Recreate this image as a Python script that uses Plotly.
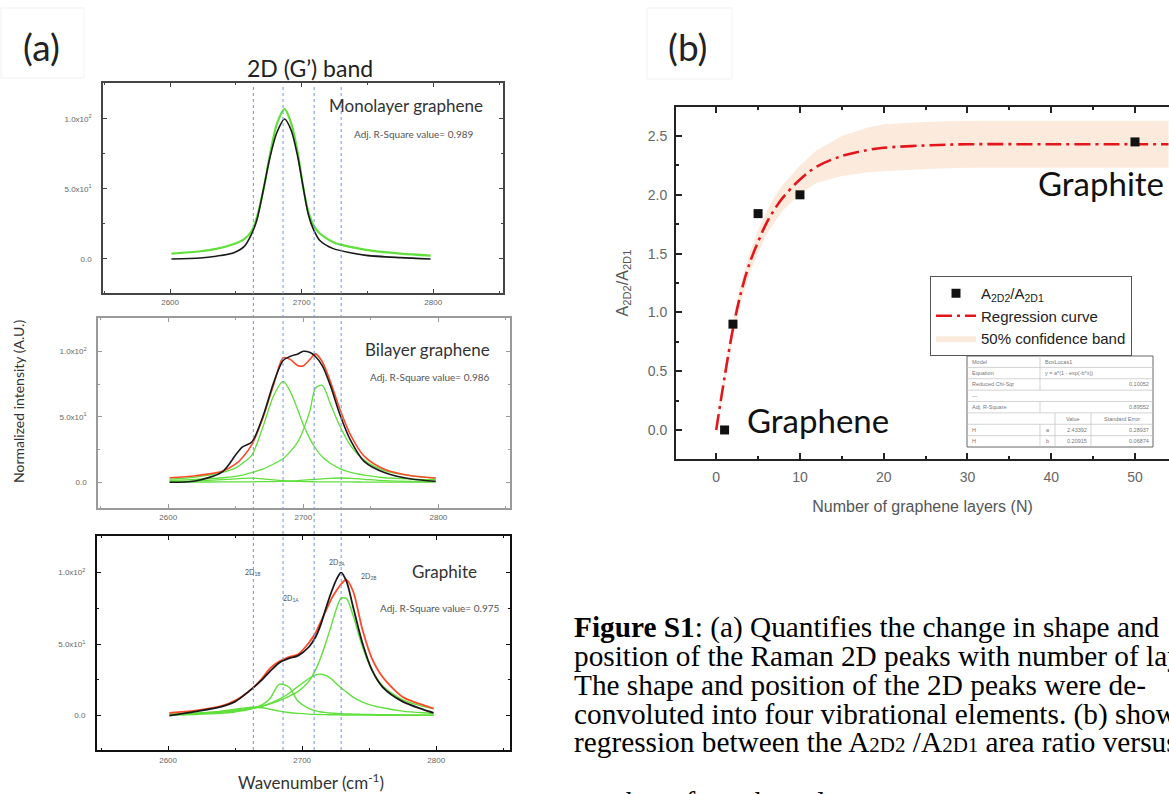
import plotly.graph_objects as go

W, H = 1169, 794

# ---------------- data: panel (a) ----------------
mono_x = [2601, 2623, 2635, 2648, 2656, 2662, 2666, 2671, 2676, 2681, 2687, 2692, 2697, 2701, 2705, 2709, 2714, 2724, 2737, 2749, 2775, 2798]
mono_data = [0, 0.7, 2, 4.3, 8.6, 18, 28, 50, 73, 90, 100, 92, 73, 52, 32, 21, 13, 7.4, 4.5, 2.6, 1, 0]
mono_fit = [3.8, 5.5, 7.2, 10.5, 14, 20, 30, 50, 75, 96, 107, 97, 76, 52, 34, 24, 18, 12, 8.6, 6.5, 3.8, 2.4]

bi_x = [2601, 2620, 2640, 2650, 2655, 2662, 2670, 2678, 2685, 2690, 2696, 2700, 2705, 2709, 2714, 2720, 2727, 2735, 2745, 2760, 2780, 2798]
bi_data = [0, 1, 8, 21, 27, 31, 50, 76, 93, 96, 98, 100, 99, 96, 89, 74, 52, 32, 16, 7.5, 2.5, 0.8]
bi_fit = [3.5, 5, 8.4, 14, 19, 29, 49, 74.5, 95, 94, 89, 89, 94, 98, 92, 77, 56, 36, 20, 10, 5, 3.3]
bi_c1 = [2.5, 4, 7.5, 11, 14.5, 21, 42, 66, 77, 70, 55, 44, 33, 26, 19.5, 14.5, 10.5, 7.5, 5.5, 3.5, 2.5, 2]
bi_c2 = [1.5, 2.2, 3.5, 4.6, 5.5, 7.5, 10, 14, 18, 23, 31, 40, 55, 72, 74, 60, 43, 28, 17, 9, 5, 3.3]
bi_c3 = [0.5, 1, 2, 2.6, 3, 3.2, 2.6, 1.8, 1.2, 0.9, 0.7, 0.6, 0.5, 0.4, 0.4, 0.3, 0.3, 0.3, 0.2, 0.2, 0.2, 0.2]
bi_c4 = [0.2, 0.2, 0.3, 0.3, 0.3, 0.4, 0.5, 0.6, 0.8, 1, 1.3, 1.6, 2, 2.3, 2.7, 3, 3.3, 3, 2.3, 1.3, 0.7, 0.5]

gr_x = [2601, 2620, 2640, 2650, 2660, 2670, 2676, 2683, 2690, 2697, 2705, 2710, 2714, 2718, 2722, 2726, 2729, 2733, 2738, 2745, 2752, 2760, 2775, 2790, 2798]
gr_data = [0, 2.8, 6.3, 9.8, 16.8, 25, 31, 37, 40, 42, 48, 55, 64, 76, 87, 96, 100, 94, 76, 50.6, 32, 20, 9.8, 4.4, 2]
gr_fit = [2, 3.5, 6.8, 10.5, 16.8, 26, 33, 38, 41, 43, 51, 58, 66, 74, 82, 88, 92, 95, 87, 60, 40, 27, 13, 7.5, 5]
gr_1b = [0.8, 1.5, 3.2, 4.5, 5.8, 5.5, 4.5, 3.2, 2.2, 1.6, 1.1, 0.9, 0.8, 0.7, 0.6, 0.6, 0.5, 0.5, 0.5, 0.4, 0.4, 0.3, 0.3, 0.3, 0.3]
gr_1a = [0.5, 0.8, 1.6, 2.6, 4.2, 7.5, 12, 22, 20, 10, 5, 3.4, 2.6, 2.1, 1.8, 1.5, 1.3, 1.2, 1.1, 0.9, 0.8, 0.7, 0.5, 0.4, 0.4]
gr_2a = [0.8, 1.3, 2.4, 3.3, 4.5, 6.5, 8.5, 11.5, 15.5, 20.5, 26, 28.5, 29, 28, 25.5, 22, 19.5, 16.5, 13, 9.5, 7.2, 5.5, 3.2, 2, 1.6]
gr_2b = [1.2, 1.8, 3, 3.8, 5, 6.8, 8.2, 10.5, 13.5, 17, 24, 32, 41, 52, 64, 76, 82, 82, 70, 48, 32, 21, 11, 6.5, 5]

peak_pos = [2663, 2685, 2708, 2728]
a_xticks = [2600, 2700, 2800]
a_yticks = [0, 50, 100]
a_yticktext = ["0.0", "5.0x10<sup>1</sup>", "1.0x10<sup>2</sup>"]

# ---------------- data: panel (b) ----------------
layers = [1, 2, 5, 10, 50]
ratio = [0.0, 0.9, 1.84, 2.0, 2.45]
fit_n = [0, 1, 2, 3, 4, 5, 6, 7, 8, 10, 12, 15, 18, 20, 25, 30, 40, 50, 54]
fit_ratio = [0.0, 0.45, 0.86, 1.18, 1.42, 1.60, 1.76, 1.88, 1.98, 2.13, 2.24, 2.33, 2.38, 2.40, 2.42, 2.43, 2.43, 2.43, 2.43]
band_hi = [0.02, 0.50, 0.93, 1.26, 1.51, 1.70, 1.86, 1.99, 2.09, 2.25, 2.38, 2.50, 2.57, 2.60, 2.62, 2.63, 2.63, 2.63, 2.63]
band_lo = [-0.02, 0.40, 0.79, 1.10, 1.33, 1.50, 1.66, 1.77, 1.87, 2.01, 2.10, 2.16, 2.19, 2.20, 2.22, 2.23, 2.23, 2.23, 2.23]

table_rows = [
    ["Model", "BoxLucas1", "", ""],
    ["Equation", "y = a*(1 - exp(-b*x))", "", ""],
    ["Reduced Chi-Sqr", "", "", "0.10052"],
    ["---", "", "", ""],
    ["Adj. R-Square", "", "", "0.89552"],
    ["", "", "Value", "Standard Error"],
    ["H", "a", "2.43392", "0.28937"],
    ["H", "b", "0.20915", "0.06874"],
]

caption_lines = [
    "<b>Figure S1</b>: (a) Quantifies the change in shape and",
    "position of the Raman 2D peaks with number of layers.",
    "The shape and position of the 2D peaks were de-",
    "convoluted into four vibrational elements. (b) shows the",
    "regression between the A<span style='font-size:21px'>2D2</span> /A<span style='font-size:21px'>2D1</span> area ratio versus",
    "number of graphene layers.",
]


def X(p):
    return p / W


def Y(p):
    return 1 - p / H


GREEN = "#5fe03a"
RED = "#ff4a2a"
BLACK = "#1a1a1a"

fig = go.Figure()


def line(x, y, color, width, ax, ay):
    fig.add_trace(go.Scatter(x=x, y=y, mode="lines", xaxis=ax, yaxis=ay,
                             line=dict(color=color, width=width, shape="spline", smoothing=0.8),
                             showlegend=False, hoverinfo="skip"))


# monolayer
line(mono_x, mono_fit, GREEN, 2.2, "x", "y")
line(mono_x, mono_data, BLACK, 1.6, "x", "y")
# bilayer
for c in (bi_c1, bi_c2, bi_c3, bi_c4):
    line(bi_x, c, GREEN, 1.3, "x2", "y2")
line(bi_x, bi_fit, RED, 1.6, "x2", "y2")
line(bi_x, bi_data, BLACK, 1.6, "x2", "y2")
# graphite
for c in (gr_1b, gr_1a, gr_2a, gr_2b):
    line(gr_x, c, GREEN, 1.4, "x3", "y3")
line(gr_x, gr_fit, RED, 1.8, "x3", "y3")
line(gr_x, gr_data, BLACK, 1.8, "x3", "y3")

# panel (b): band first (drawn underneath), then curve, then points
fig.add_trace(go.Scatter(x=fit_n, y=band_lo, mode="lines", line=dict(width=0, color="rgba(0,0,0,0)"),
                         xaxis="x4", yaxis="y4", showlegend=False, hoverinfo="skip"))
fig.add_trace(go.Scatter(x=fit_n, y=band_hi, mode="lines", line=dict(width=0, color="rgba(0,0,0,0)"),
                         fill="tonexty", fillcolor="rgba(246,196,160,0.36)",
                         xaxis="x4", yaxis="y4", name="50% confidence band", legendrank=3))
fig.add_trace(go.Scatter(x=fit_n, y=fit_ratio, mode="lines", xaxis="x4", yaxis="y4",
                         line=dict(color="#e4161c", width=2.6, dash="16px,5px,3px,5px", shape="spline"),
                         name="Regression curve", legendrank=2))
fig.add_trace(go.Scatter(x=layers, y=ratio, mode="markers", xaxis="x4", yaxis="y4",
                         marker=dict(symbol="square", size=9, color="#111"),
                         name="A<sub>2D2</sub>/A<sub>2D1</sub>", legendrank=1))


def a_axes(dx, dy, rx, ry, color, lw, anchor_x, anchor_y):
    xa = dict(domain=[X(dx[0]), X(dx[1])], range=rx, anchor=anchor_y, showline=True, linecolor=color,
              linewidth=lw, mirror="ticks", ticks="inside", ticklen=4, tickcolor=color, tickwidth=1,
              tickmode="array", tickvals=a_xticks,
              minor=dict(ticks="inside", ticklen=2, tickmode="array", tickvals=[2550, 2650, 2750, 2850], tickcolor=color),
              showgrid=False, zeroline=False, ticklabelstandoff=1,
              tickfont=dict(size=8, color="#666", family="Liberation Sans"))
    ya = dict(domain=[Y(dy[1]), Y(dy[0])], range=ry, anchor=anchor_x, showline=True, linecolor=color,
              linewidth=lw, mirror="ticks", ticks="inside", ticklen=4, tickcolor=color, tickwidth=1,
              tickmode="array", tickvals=a_yticks, ticktext=a_yticktext,
              minor=dict(ticks="inside", ticklen=2, tickmode="array", tickvals=[-25, 25, 75, 125], tickcolor=color),
              showgrid=False, zeroline=False, ticklabelstandoff=8,
              tickfont=dict(size=8, color="#666", family="Liberation Sans"))
    return xa, ya


xa1, ya1 = a_axes((103, 503), (83, 293), [2549, 2853], [-24.3, 125.7], "#444", 1.5, "x", "y")
xa2, ya2 = a_axes((98, 510), (318, 508), [2548, 2853], [-19.6, 125.4], "#9a9a9a", 1.5, "x2", "y2")
xa3, ya3 = a_axes((97, 510), (536, 750), [2547, 2855], [-24, 125.6], "#111", 2, "x3", "y3")

xa4 = dict(domain=[X(676), 1.0], range=[-4.8, 54.06], anchor="y4", showline=True, linecolor="#222",
           linewidth=2, mirror="ticks", ticks="inside", ticklen=6, tickcolor="#222", tickwidth=1.5,
           tick0=0, dtick=10, minor=dict(ticks="inside", ticklen=3, dtick=5, tick0=0, tickcolor="#222"),
           showgrid=False, zeroline=False, ticklabelstandoff=4,
           tickfont=dict(size=14, color="#666", family="Liberation Sans"),
           title=dict(text="Number of graphene layers (N)", standoff=17,
                      font=dict(size=16, color="#555", family="Liberation Sans")))
ya4 = dict(domain=[Y(459), Y(107)], range=[-0.247, 2.747], anchor="x4", showline=True, linecolor="#222",
           linewidth=2, mirror=False, ticks="inside", ticklen=6, tickcolor="#222", tickwidth=1.5,
           tick0=0, dtick=0.5, tickformat=".1f",
           minor=dict(ticks="inside", ticklen=3, dtick=0.25, tick0=0, tickcolor="#222"),
           showgrid=False, zeroline=False, ticklabelstandoff=4,
           tickfont=dict(size=14, color="#666", family="Liberation Sans"),
           title=dict(text="A<sub>2D2</sub>/A<sub>2D1</sub>", standoff=15,
                      font=dict(size=16, color="#555", family="Liberation Sans")))

shapes = []
for v in peak_pos:
    shapes.append(dict(type="line", xref="x2", yref="paper", x0=v, x1=v, y0=Y(750), y1=Y(86),
                       line=dict(color="#7094dc", width=1, dash="dot")))
# faint label boxes
shapes.append(dict(type="rect", xref="paper", yref="paper", x0=X(1), x1=X(84), y0=Y(78), y1=Y(8),
                   line=dict(color="#f1f1f1", width=1)))
shapes.append(dict(type="rect", xref="paper", yref="paper", x0=X(647), x1=X(732), y0=Y(79), y1=Y(8),
                   line=dict(color="#f1f1f1", width=1)))

# statistics table
tL, tR, tT, tB = 967, 1153, 356, 447
c1, c2, c3 = 1040, 1055, 1091
rh = (tB - tT) / len(table_rows)
shapes.append(dict(type="rect", xref="paper", yref="paper", x0=X(tL), x1=X(tR), y0=Y(tB), y1=Y(tT),
                   line=dict(color="#666", width=1), fillcolor="white", layer="above"))
for i in range(1, len(table_rows)):
    yy = tT + i * rh
    shapes.append(dict(type="line", xref="paper", yref="paper", x0=X(tL), x1=X(tR), y0=Y(yy), y1=Y(yy),
                       line=dict(color="#c8c8c8", width=0.8)))
for i in (0, 1, 2, 4, 6, 7):
    shapes.append(dict(type="line", xref="paper", yref="paper", x0=X(c1), x1=X(c1),
                       y0=Y(tT + i * rh), y1=Y(tT + (i + 1) * rh), line=dict(color="#c8c8c8", width=0.8)))
for i in (5, 6, 7):
    for cx in (c2, c3):
        shapes.append(dict(type="line", xref="paper", yref="paper", x0=X(cx), x1=X(cx),
                           y0=Y(tT + i * rh), y1=Y(tT + (i + 1) * rh), line=dict(color="#c8c8c8", width=0.8)))

ann = []


def text(x, y, s, size, color="#222", family="Lato", xanchor="center", yanchor="middle", angle=0):
    ann.append(dict(x=X(x), y=Y(y), xref="paper", yref="paper", text=s, showarrow=False,
                    font=dict(size=size, color=color, family=family), xanchor=xanchor,
                    yanchor=yanchor, textangle=angle))


text(41, 47, "(a)", 37, "#222")
text(687, 46, "(b)", 37, "#222")
text(310, 68, "2D (G\u2019) band", 23, "#222")
text(18, 402, "Normalized intensity (A.U.)", 14, "#333", angle=-90)
text(311, 781, "Wavenumber (cm<sup>-1</sup>)", 17, "#333")
text(406, 106, "Monolayer graphene", 17, "#333")
text(413, 134, "Adj. R-Square value= 0.989", 10, "#555")
text(427, 349, "Bilayer graphene", 17, "#333")
text(430, 377, "Adj. R-Square value= 0.986", 10, "#555")
text(444, 571, "Graphite", 17, "#333")
text(439, 608, "Adj. R-Square value= 0.975", 10, "#555")
text(252, 572, "2D<sub>1B</sub>", 7, "#555")
text(291, 598, "2D<sub>1A</sub>", 7, "#555")
text(337, 562, "2D<sub>2A</sub>", 7, "#555")
text(368, 576, "2D<sub>2B</sub>", 7, "#555")
text(1101, 183, "Graphite", 33, "#111")
text(818, 420, "Graphene", 33, "#111")

tc = "#777"
for i, row in enumerate(table_rows):
    yc = tT + (i + 0.5) * rh
    if row[0]:
        text(tL + 3, yc, row[0], 5.5, tc, "Liberation Sans", xanchor="left")
    if i in (0, 1):
        text(c1 + 3, yc, row[1], 5.5, tc, "Liberation Sans", xanchor="left")
    elif i in (6, 7):
        text((c1 + c2) / 2, yc, row[1], 5.5, tc, "Liberation Sans")
    if row[2]:
        text((c3 - 2) if i > 5 else (c2 + c3) / 2, yc, row[2], 5.5, tc, "Liberation Sans",
             xanchor="right" if i > 5 else "center")
    if row[3]:
        text((tR - 2) if i != 5 else (c3 + tR) / 2, yc, row[3], 5.5, tc, "Liberation Sans",
             xanchor="right" if i != 5 else "center")

cap_y = [627, 656, 685, 714, 742, 802]
for s, yy in zip(caption_lines, cap_y):
    text(572, yy, s, 29.3, "#000", "Liberation Serif", xanchor="left")

fig.update_layout(
    width=W, height=H, margin=dict(l=0, r=0, t=0, b=0),
    paper_bgcolor="white", plot_bgcolor="white",
    xaxis=xa1, yaxis=ya1, xaxis2=xa2, yaxis2=ya2, xaxis3=xa3, yaxis3=ya3,
    xaxis4=xa4, yaxis4=ya4,
    shapes=shapes, annotations=ann,
    legend=dict(x=X(930), y=Y(276), xanchor="left", yanchor="top", bgcolor="white",
                bordercolor="#555", borderwidth=1, tracegroupgap=0, itemwidth=40,
                traceorder="normal",
                font=dict(size=15, color="#222", family="Liberation Sans")),
)

fig.write_html("out.html")
